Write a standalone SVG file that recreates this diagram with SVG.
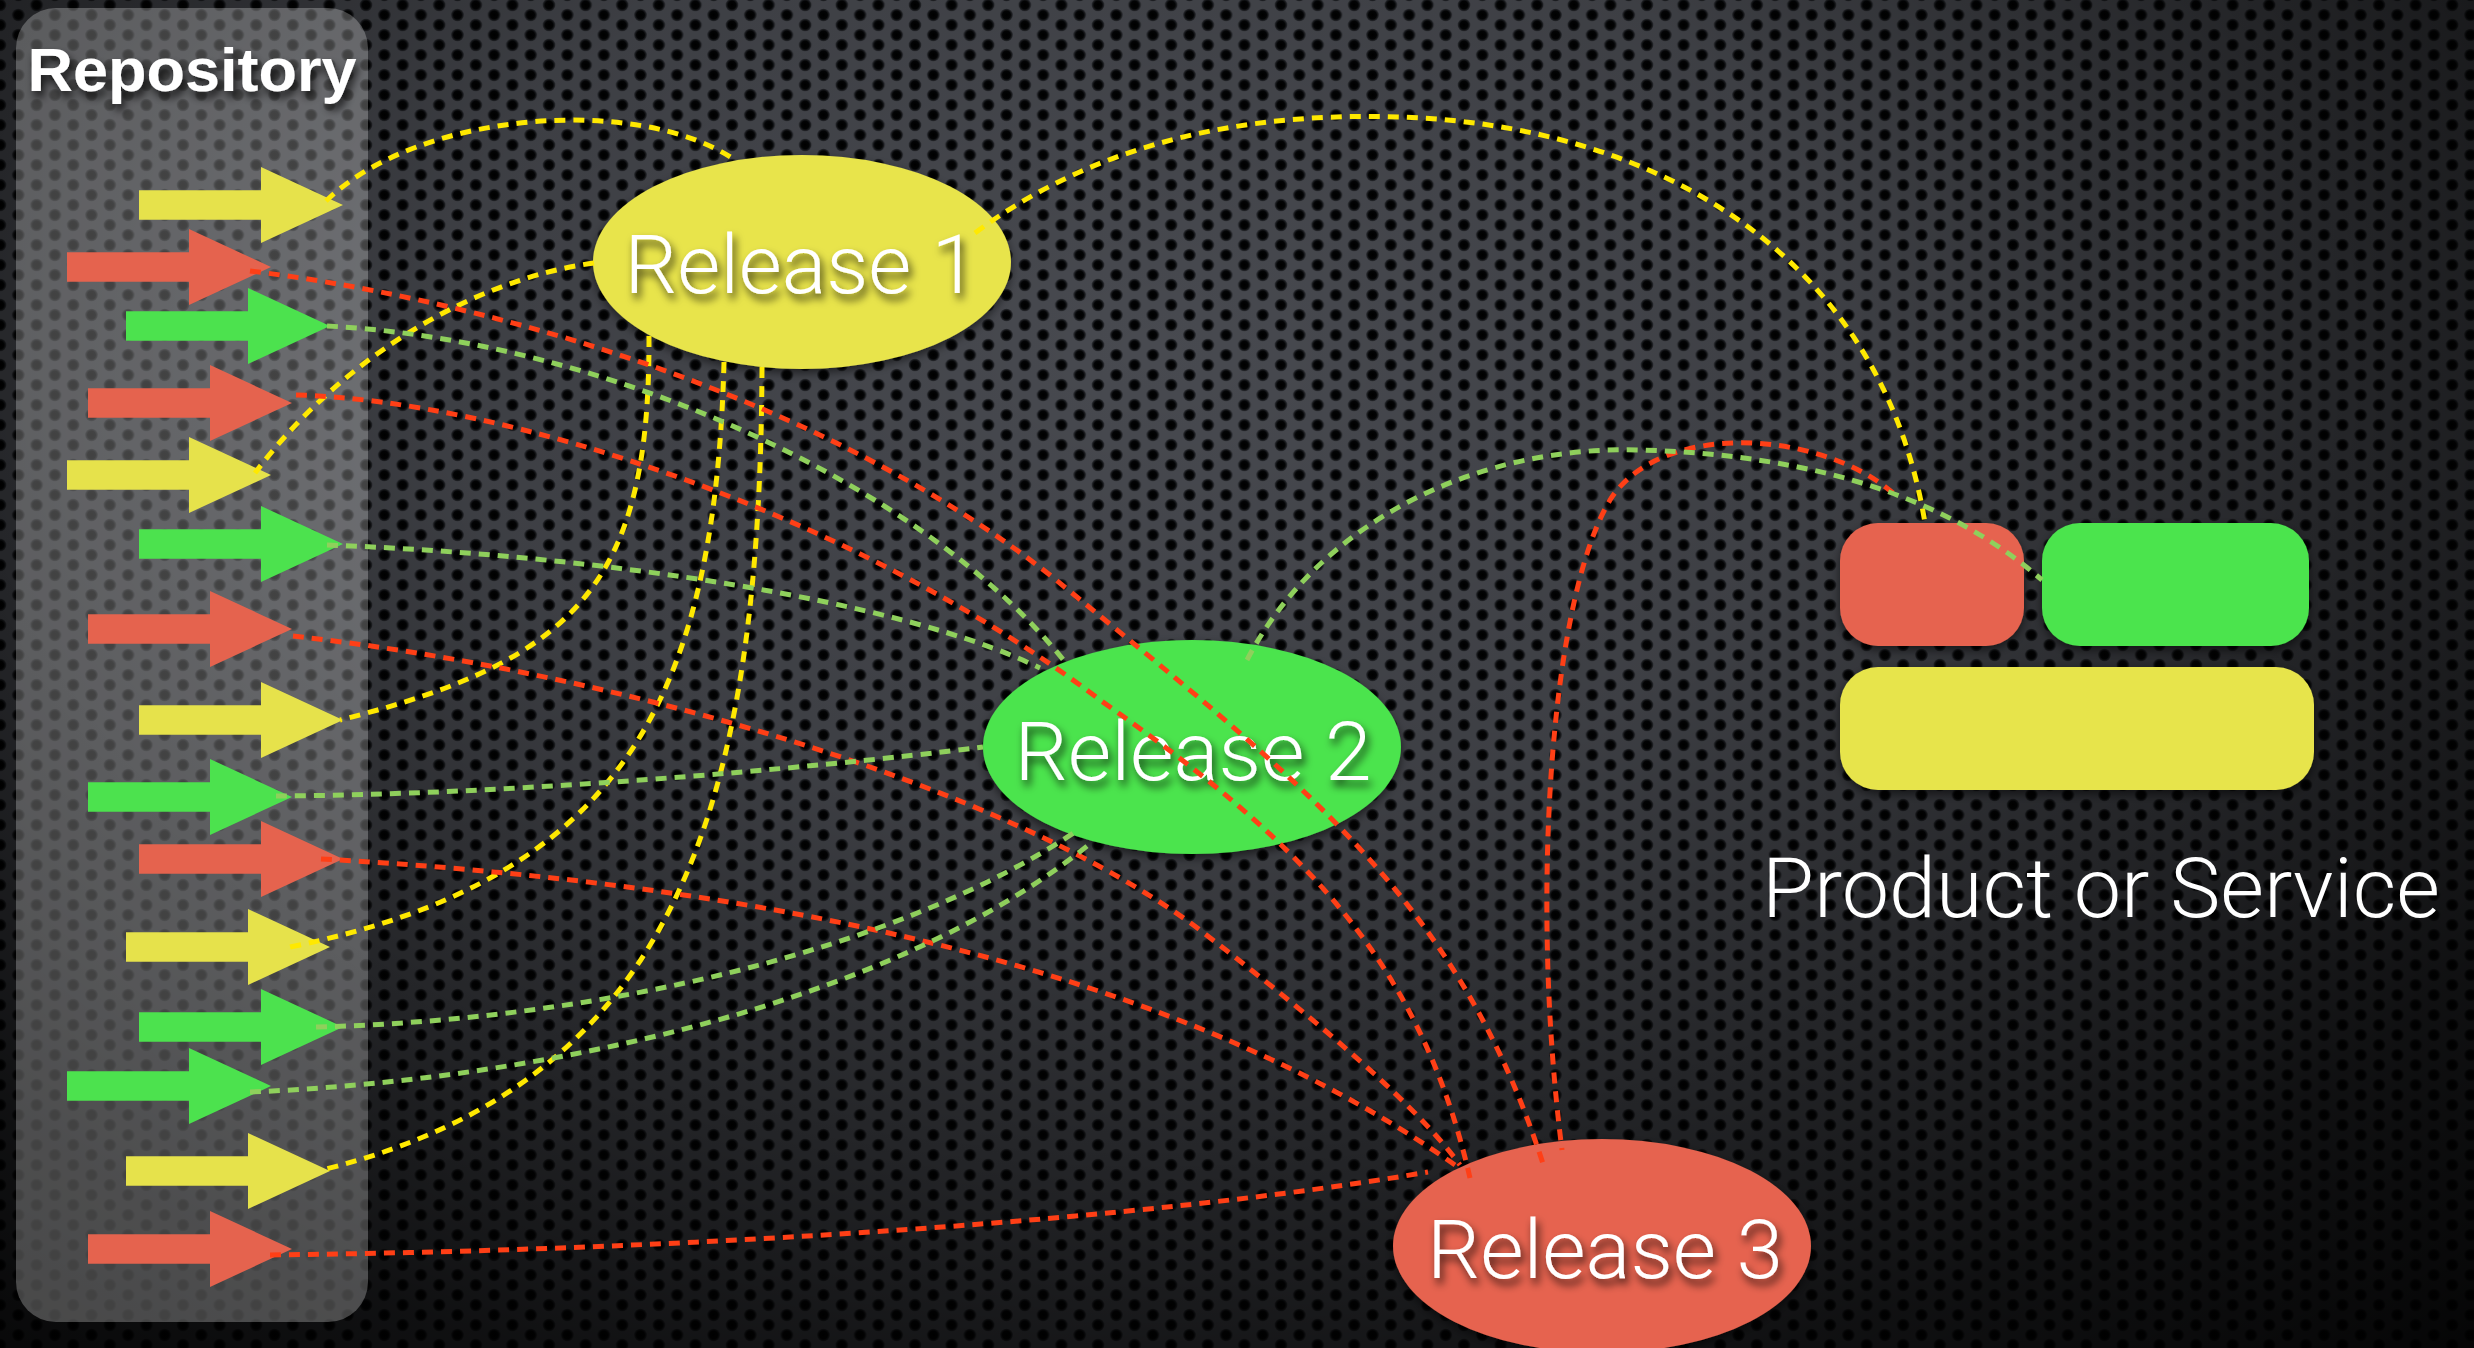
<svg xmlns="http://www.w3.org/2000/svg" xmlns:xlink="http://www.w3.org/1999/xlink" width="2474" height="1348" viewBox="0 0 2474 1348">
  <defs>
    <radialGradient id="hole" cx="0.5" cy="0.5" r="0.5">
      <stop offset="0" stop-color="#000"/>
      <stop offset="0.62" stop-color="#030405"/>
      <stop offset="1" stop-color="#2e3035"/>
    </radialGradient>
    <!-- perforated metal plate: staggered columns 18.3 apart, holes 20 apart -->
    <pattern id="perf" width="36.6" height="20" patternUnits="userSpaceOnUse">
      <rect width="36.6" height="20" fill="#484a50"/>
      <circle cx="0" cy="5" r="6.3" fill="url(#hole)"/>
      <circle cx="36.6" cy="5" r="6.3" fill="url(#hole)"/>
      <circle cx="0" cy="25" r="6.3" fill="url(#hole)"/>
      <circle cx="36.6" cy="25" r="6.3" fill="url(#hole)"/>
      <circle cx="18.3" cy="15" r="6.3" fill="url(#hole)"/>
      <circle cx="18.3" cy="-5" r="6.3" fill="url(#hole)"/>
      <circle cx="0" cy="-15" r="6.3" fill="url(#hole)"/>
    </pattern>
    <radialGradient id="vignette" gradientUnits="userSpaceOnUse" cx="1150" cy="350" r="2000" gradientTransform="translate(1150 350) scale(1 0.675) translate(-1150 -350)">
      <stop offset="0" stop-color="#000" stop-opacity="0"/>
      <stop offset="0.35" stop-color="#000" stop-opacity="0.15"/>
      <stop offset="0.6" stop-color="#000" stop-opacity="0.5"/>
      <stop offset="0.8" stop-color="#000" stop-opacity="0.78"/>
      <stop offset="1" stop-color="#000" stop-opacity="0.93"/>
    </radialGradient>
    <filter id="textShadow" x="-10%" y="-30%" width="120%" height="160%">
      <feDropShadow dx="3" dy="6" stdDeviation="4" flood-color="#000" flood-opacity="0.75"/>
    </filter>
    <filter id="nodeShadow" x="-10%" y="-15%" width="120%" height="135%">
      <feDropShadow dx="0" dy="4" stdDeviation="5" flood-color="#000" flood-opacity="0.55"/>
    </filter>
    <!-- block arrow, tip at the origin -->
    <path id="arrow" d="M -204 -14.7 H -82 V -38 L 0 0 L -82 38 V 14.7 H -204 Z"/>
    <style>
      .y { fill: #e6e24b; }
      .r { fill: #e5634e; }
      .g { fill: #4ce24e; }
      .label { font-family: Roboto, "Liberation Sans", Arial, sans-serif; font-weight: 300; fill: #ffffff; text-anchor: middle; }
      .title { font-family: "Liberation Sans", Arial, Helvetica, sans-serif; font-weight: bold; fill: #ffffff; text-anchor: middle; }
      .link { fill: none; stroke-width: 5; stroke-dasharray: 11 8; }
      .ly { stroke: #ffe900; }
      .lr { stroke: #ff3f16; }
      .lg { stroke: #8fd05c; }
    </style>
  </defs>

  <!-- background -->
  <rect width="2474" height="1348" fill="url(#perf)"/>
  <rect width="2474" height="1348" fill="url(#vignette)"/>

  <!-- repository panel with incoming changes -->
  <g id="repository">
    <rect x="16" y="8" width="352" height="1314" rx="40" ry="40" fill="#ffffff" fill-opacity="0.26"/>
    <text class="title" x="192" y="91" font-size="62" textLength="329" lengthAdjust="spacingAndGlyphs" filter="url(#textShadow)">Repository</text>
    <g id="changes">
      <use href="#arrow" class="y" x="343" y="205"/>
      <use href="#arrow" class="r" x="271" y="267"/>
      <use href="#arrow" class="g" x="330" y="326"/>
      <use href="#arrow" class="r" x="292" y="403"/>
      <use href="#arrow" class="y" x="271" y="475"/>
      <use href="#arrow" class="g" x="343" y="544"/>
      <use href="#arrow" class="r" x="292" y="629"/>
      <use href="#arrow" class="y" x="343" y="720"/>
      <use href="#arrow" class="g" x="292" y="797"/>
      <use href="#arrow" class="r" x="343" y="859"/>
      <use href="#arrow" class="y" x="330" y="947"/>
      <use href="#arrow" class="g" x="343" y="1027"/>
      <use href="#arrow" class="g" x="271" y="1086"/>
      <use href="#arrow" class="y" x="330" y="1171"/>
      <use href="#arrow" class="r" x="292" y="1249"/>
    </g>
  </g>

  <g id="release1">
    <ellipse cx="802" cy="262" rx="209" ry="107" fill="#e8e44c" filter="url(#nodeShadow)"/>
    <text class="label" x="801" y="293" font-size="82" textLength="353" lengthAdjust="spacingAndGlyphs" filter="url(#textShadow)">Release 1</text>
  </g>

  <g id="release2">
    <ellipse cx="1192" cy="747" rx="209" ry="107" fill="#4be44d" filter="url(#nodeShadow)"/>
    <text class="label" x="1193" y="780" font-size="82" textLength="357" lengthAdjust="spacingAndGlyphs" filter="url(#textShadow)">Release 2</text>
  </g>

  <g id="release3">
    <ellipse cx="1602" cy="1246" rx="209" ry="107" fill="#e6644f" filter="url(#nodeShadow)"/>
    <text class="label" x="1605" y="1278" font-size="82" textLength="356" lengthAdjust="spacingAndGlyphs" filter="url(#textShadow)">Release 3</text>
  </g>

  <g id="product">
    <rect x="1840" y="523" width="184" height="123" rx="38" ry="38" fill="#e6644f" filter="url(#nodeShadow)"/>
    <rect x="2042" y="523" width="267" height="123" rx="38" ry="38" fill="#4be44d" filter="url(#nodeShadow)"/>
    <rect x="1840" y="667" width="474" height="123" rx="38" ry="38" fill="#e7e44c" filter="url(#nodeShadow)"/>
    <text class="label" x="2101" y="917" font-size="84" textLength="678" lengthAdjust="spacingAndGlyphs">Product or Service</text>
  </g>

  <g id="connectors">
    <!-- yellow changes into Release 1 -->
    <path class="link ly" d="M 326 201 C 420 110, 640 95, 735 160"/>
    <path class="link ly" d="M 594 263 C 470 280, 340 360, 255 473"/>
    <path class="link ly" d="M 649 336 C 650 580, 580 660, 340 720"/>
    <path class="link ly" d="M 724 362 C 715 700, 620 880, 290 947"/>
    <path class="link ly" d="M 762 367 C 760 800, 680 1080, 326 1169"/>
    <path class="link ly" d="M 975 233 C 1100 140, 1250 112, 1400 117 C 1650 125, 1880 250, 1925 523"/>
    <!-- red changes into Release 3 -->
    <path class="link lr" d="M 250 271 C 450 295, 800 380, 1050 575 C 1300 780, 1460 900, 1545 1170"/>
    <path class="link lr" d="M 296 395 C 500 400, 850 510, 1100 700 C 1300 840, 1420 960, 1470 1178"/>
    <path class="link lr" d="M 293 636 C 600 670, 1000 780, 1200 930 C 1330 1030, 1420 1110, 1460 1165"/>
    <path class="link lr" d="M 321 859 C 700 880, 1150 950, 1455 1165"/>
    <path class="link lr" d="M 270 1255 C 700 1250, 1150 1220, 1428 1172"/>
    <path class="link lr" d="M 1893 493 C 1820 430, 1660 420, 1610 500 C 1550 600, 1530 900, 1562 1150"/>
    <!-- green changes into Release 2 -->
    <path class="link lg" d="M 327 326 C 600 340, 920 480, 1065 662"/>
    <path class="link lg" d="M 327 545 C 600 555, 900 600, 1040 668"/>
    <path class="link lg" d="M 276 796 C 500 795, 800 770, 983 747"/>
    <path class="link lg" d="M 316 1027 C 600 1020, 900 950, 1078 830"/>
    <path class="link lg" d="M 250 1092 C 550 1080, 900 1000, 1092 842"/>
    <path class="link lg" d="M 1247 660 C 1320 520, 1480 445, 1640 450 C 1820 455, 1950 500, 2042 580"/>
  </g>
</svg>
